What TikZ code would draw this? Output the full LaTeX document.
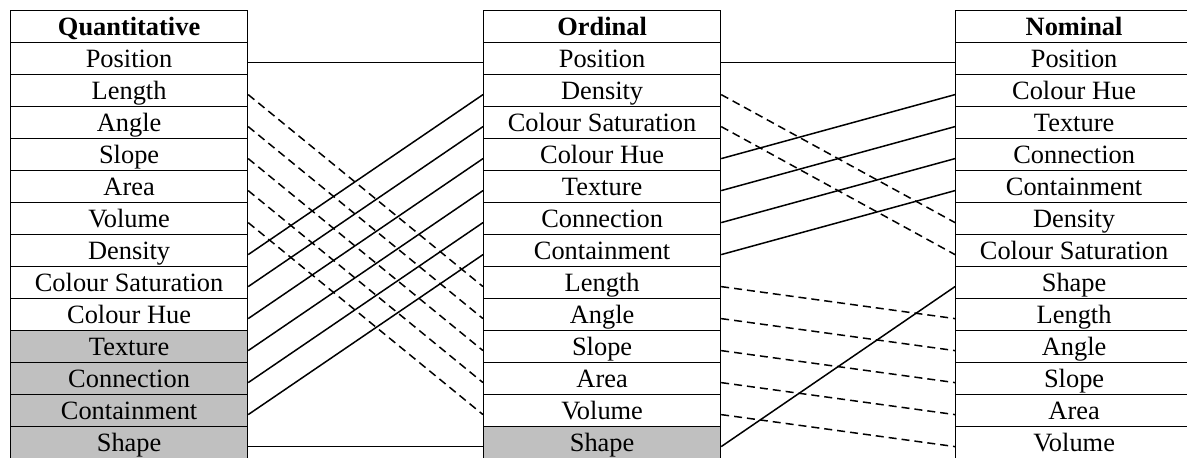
\documentclass[tikz,border=0pt]{standalone}
\usepackage{fontspec}
\setmainfont{Liberation Serif}
\definecolor{cellgrey}{HTML}{C0C0C0}
\begin{document}
\begin{tikzpicture}[x=0.5pt,y=-0.5pt,
  cell/.style={draw, line width=0.6pt, minimum width=118.5pt, minimum height=16pt,
    inner sep=0pt, anchor=north west, font=\fontsize{13.2}{15}\selectfont,
    text height=10pt, text depth=0.7pt},
  headcell/.style={cell, font=\fontsize{13.2}{15}\selectfont\bfseries},
  solidlink/.style={line width=0.75pt},
  dashlink/.style={line width=0.75pt, dash pattern=on 4pt off 2.5pt}]
\fill[white] (0,0) rectangle (1187,457);
\useasboundingbox (0,0) rectangle (1187,457);
% Quantitative
\node[headcell] (qh) at (10,10) {Quantitative};
\foreach \t/\f [count=\i] in {Position/white, Length/white, Angle/white, Slope/white,
  Area/white, Volume/white, Density/white, Colour Saturation/white, Colour Hue/white,
  Texture/cellgrey, Connection/cellgrey, Containment/cellgrey, Shape/cellgrey}
  \node[cell, fill=\f] (q\i) at (10,{10+32*\i}) {\t};
% Ordinal
\node[headcell] (oh) at (483,10) {Ordinal};
\foreach \t/\f [count=\i] in {Position/white, Density/white, Colour Saturation/white,
  Colour Hue/white, Texture/white, Connection/white, Containment/white, Length/white,
  Angle/white, Slope/white, Area/white, Volume/white, Shape/cellgrey}
  \node[cell, fill=\f] (o\i) at (483,{10+32*\i}) {\t};
% Nominal
\node[headcell] (nh) at (955,10) {Nominal};
\foreach \t/\f [count=\i] in {Position/white, Colour Hue/white, Texture/white,
  Connection/white, Containment/white, Density/white, Colour Saturation/white,
  Shape/white, Length/white, Angle/white, Slope/white, Area/white, Volume/white}
  \node[cell, fill=\f] (n\i) at (955,{10+32*\i}) {\t};
% Quantitative -> Ordinal
\foreach \a/\b in {1/1, 7/2, 8/3, 9/4, 10/5, 11/6, 12/7, 13/13}
  \draw[solidlink] ([yshift=-2pt]q\a.east) -- ([yshift=-2pt]o\b.west);
\foreach \a/\b in {2/8, 3/9, 4/10, 5/11, 6/12}
  \draw[dashlink] ([yshift=-2pt]q\a.east) -- ([yshift=-2pt]o\b.west);
% Ordinal -> Nominal
\foreach \a/\b in {1/1, 4/2, 5/3, 6/4, 7/5, 13/8}
  \draw[solidlink] ([yshift=-2pt]o\a.east) -- ([yshift=-2pt]n\b.west);
\foreach \a/\b in {2/6, 3/7, 8/9, 9/10, 10/11, 11/12, 12/13}
  \draw[dashlink] ([yshift=-2pt]o\a.east) -- ([yshift=-2pt]n\b.west);
\end{tikzpicture}
\end{document}
